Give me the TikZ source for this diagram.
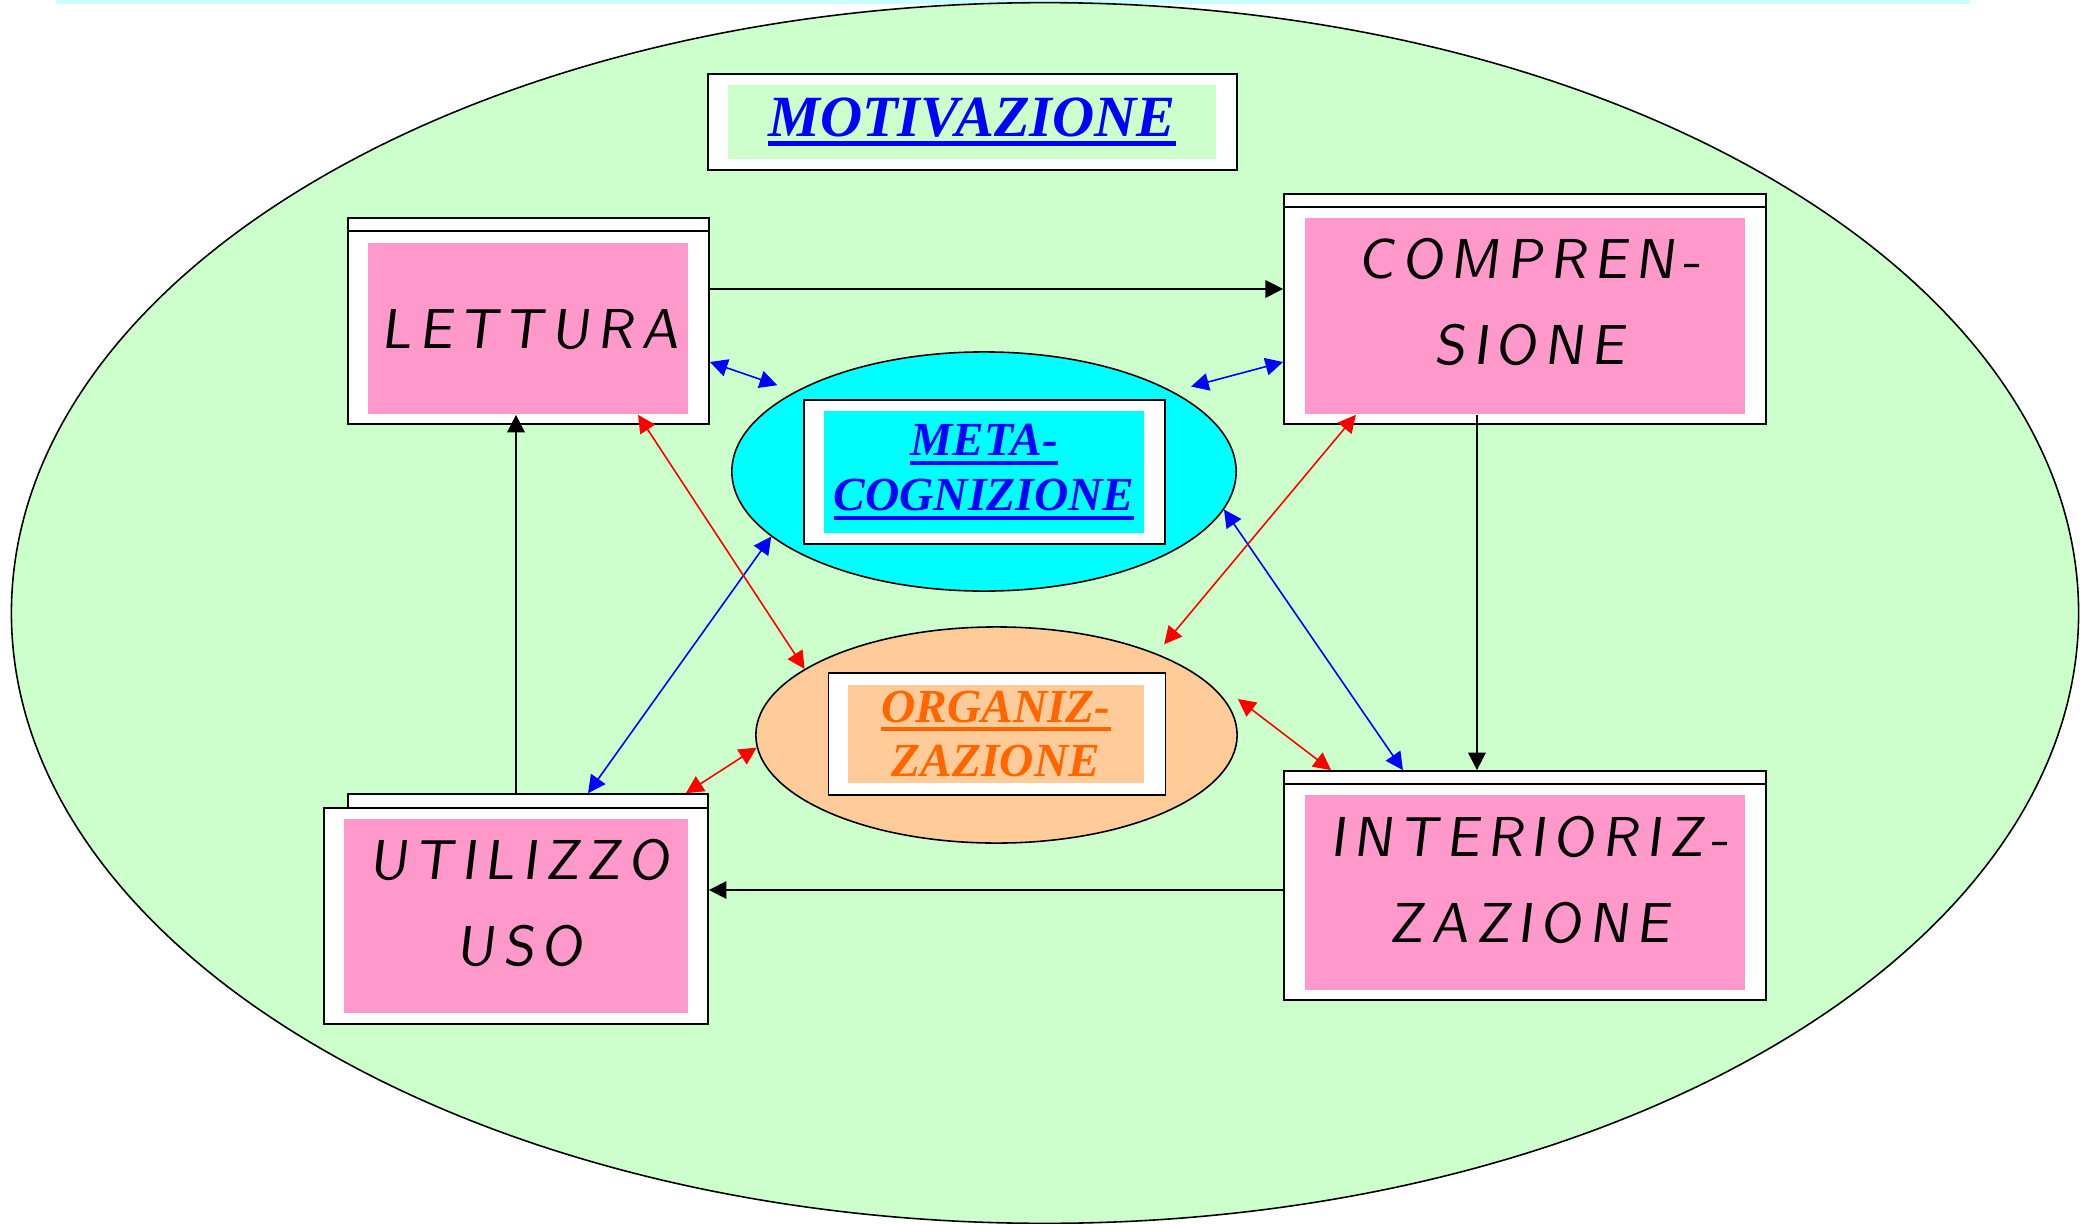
\documentclass[tikz,border=0pt]{standalone}
\usepackage{fontspec}
\usetikzlibrary{arrows.meta, shapes.geometric}

\newfontfamily\labfont{Liberation Serif}
\newfontfamily\handfont[LetterSpace=13,FakeSlant=0.12]{lmsans10-regular.otf}

\definecolor{bggreen}{HTML}{CCFFCC}
\definecolor{stripcyan}{HTML}{CCFFFF}
\definecolor{pinkfill}{HTML}{FF99CC}
\definecolor{metacyan}{HTML}{00FFFF}
\definecolor{orgpeach}{HTML}{FFCC99}
\definecolor{orgtext}{HTML}{FF6600}

% thick underline: #1 depth below baseline, #2 thickness
\newcommand\ulbar[3]{\setbox0\hbox{#3}\rlap{\rule[-#1]{\wd0}{#2}}\box0}
% title bar line of a window box
\newcommand\winbar[1]{\draw ([yshift=-0.14cm]#1.north west) -- ([yshift=-0.14cm]#1.north east);}

\begin{document}
\begin{tikzpicture}[x=0.01cm, y=-0.01cm, line width=0.45pt,
    winbox/.style={rectangle, draw=black, fill=white, inner sep=0pt},
    pinkbox/.style={rectangle, fill=pinkfill, inner sep=0pt},
    hand/.style={align=center, inner sep=0pt, font=\handfont\fontsize{16}{24.5}\selectfont},
    bigtitle/.style={rectangle, fill=bggreen, inner sep=0pt, text=blue, font=\labfont\bfseries\itshape\fontsize{16.6}{20}\selectfont},
    oval/.style={ellipse, draw=black, inner sep=0pt},
    subtitle/.style={rectangle, inner sep=0pt, align=center, font=\labfont\bfseries\itshape\fontsize{13.5}{15.6}\selectfont},
    tip/.style={-{Triangle[length=5pt,width=5pt]}},
    both/.style={{Triangle[length=5pt,width=5pt]}-{Triangle[length=5pt,width=5pt]}}]

\useasboundingbox (0,0) rectangle (2090,1224);
\fill[stripcyan] (56,0) rectangle (1970,4);
\draw[fill=bggreen] (1045,613) ellipse [x radius=10.33cm, y radius=6.1cm];

% motivazione
\node[winbox, minimum width=5.29cm, minimum height=0.96cm] (mot) at (972.5,122) {};
\node[bigtitle, minimum width=4.88cm, minimum height=0.74cm] (motp) at (972,122) {\ulbar{0.1cm}{0.05cm}{MOTIVAZIONE}};

% lettura
\node[winbox, minimum width=3.61cm, minimum height=2.06cm] (lett) at (528.5,321) {};
\winbar{lett}
\node[pinkbox, minimum width=3.2cm, minimum height=1.71cm] (lettp) at (528,328.5) {};
\node[hand] (lettt) at (530,330) {LETTURA};

% comprensione
\node[winbox, minimum width=4.82cm, minimum height=2.3cm] (comp) at (1525,309) {};
\winbar{comp}
\node[pinkbox, minimum width=4.4cm, minimum height=1.96cm] (compp) at (1525,316) {};
\node[hand] (compt) at (1530,302) {COMPREN-\\SIONE};

% interiorizzazione
\node[winbox, minimum width=4.82cm, minimum height=2.29cm] (inte) at (1525,885.5) {};
\winbar{inte}
\node[pinkbox, minimum width=4.4cm, minimum height=1.95cm] (intep) at (1525,892.5) {};
\node[hand] (intet) at (1530,880) {INTERIORIZ-\\ZAZIONE};

% utilizzo
\node[winbox, minimum width=3.6cm, minimum height=0.14cm] (utilbar) at (528,801) {};
\node[winbox, minimum width=3.84cm, minimum height=2.16cm] (util) at (516,916) {};
\node[pinkbox, minimum width=3.44cm, minimum height=1.94cm] (utilp) at (516,916) {};
\node[hand] (utilt) at (520,903) {UTILIZZO\\USO};

% metacognizione
\node[oval, fill=metacyan, minimum width=5.04cm, minimum height=2.39cm] (meta) at (984,471.5) {};
\node[winbox, minimum width=3.61cm, minimum height=1.44cm] (metab) at (984.5,472) {};
\node[subtitle, fill=metacyan, text=blue, minimum width=3.2cm, minimum height=1.22cm] (metap) at (984,472)
  {\ulbar{0.09cm}{0.04cm}{META-}\\\ulbar{0.09cm}{0.04cm}{COGNIZIONE}};

% organizzazione
\node[oval, fill=orgpeach, minimum width=4.81cm, minimum height=2.16cm] (org) at (996.5,735) {};
\node[winbox, minimum width=3.37cm, minimum height=1.22cm] (orgb) at (997,734) {};
\node[subtitle, fill=orgpeach, text=orgtext, minimum width=2.96cm, minimum height=0.98cm] (orgp) at (996,734)
  {\ulbar{0.09cm}{0.04cm}{ORGANIZ-}\\ZAZIONE};

% cycle
\draw[tip] ([yshift=0.32cm]lett.east) -- ([yshift=0.32cm]lett.east -| comp.west);
\draw[tip] ([xshift=-0.48cm]compp.south) -- ([xshift=-0.48cm]compp.south |- inte.north);
\draw[tip] ([yshift=-0.045cm]inte.west) -- ([yshift=-0.045cm]inte.west -| util.east);
\draw[tip] (util.north |- utilbar.north) -- (util.north |- lettp.south);

% metacognizione links
\draw[both, blue, shorten >=0.19cm] ([yshift=-0.41cm]lett.east) -- (meta.157);
\draw[both, blue, shorten >=0.19cm] ([yshift=-0.53cm]comp.west) -- (meta.23);
\draw[both, blue] ([xshift=0.6cm]utilbar.north) -- (meta.197);
\draw[both, blue] ([xshift=-1.22cm]inte.north) -- (meta.351);

% organizzazione links
\draw[both, red] ([xshift=1.1cm]lettp.south) -- (org.161);
\draw[both, red, shorten >=0.12cm] ([xshift=-1.69cm]compp.south) -- (org.27);
\draw[both, red] ([xshift=-0.23cm]utilbar.north east) -- (org.183);
\draw[both, red] ([xshift=0.48cm]inte.north west) -- ([yshift=0.36cm]org.east);
\end{tikzpicture}
\end{document}
